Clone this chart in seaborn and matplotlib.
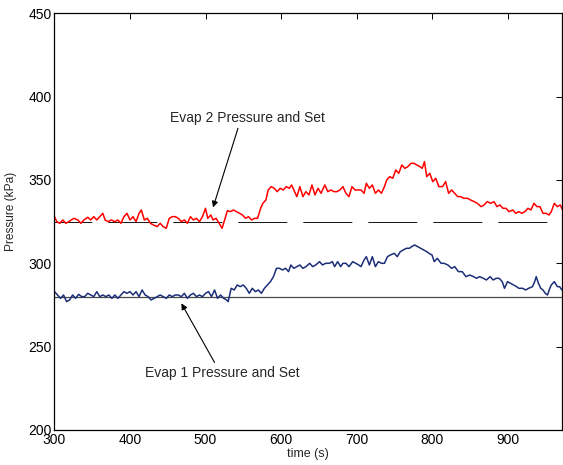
import numpy as np
import pandas as pd
import matplotlib
matplotlib.use("Agg")
import matplotlib.pyplot as plt
import seaborn as sns

# Evaporator 2 pressure trace (time in s, pressure in kPa)
evap2_t = [300, 303, 307, 311, 315, 319, 322, 326, 331, 335, 339, 344, 348, 352, 356, 360,
           364, 367, 371, 375, 380, 384, 388, 392, 396, 400, 404, 408, 412, 415, 419, 423,
           427, 431, 436, 440, 444, 448, 452, 456, 460, 464, 468, 472, 476, 480, 484, 488,
           492, 496, 500, 503, 507, 510, 514, 518, 522, 526, 529, 533, 537, 541, 545, 549,
           553, 557, 561, 565, 569, 573, 576, 580, 583, 587, 591, 595, 599, 603, 607, 611,
           614, 618, 621, 625, 629, 633, 637, 641, 645, 649, 653, 658, 662, 666, 670, 674,
           678, 682, 686, 690, 694, 698, 702, 706, 710, 713, 717, 721, 725, 729, 733, 737,
           740, 744, 748, 752, 756, 760, 764, 768, 772, 776, 780, 784, 787, 790, 793, 797,
           801, 805, 809, 814, 818, 822, 826, 830, 834, 838, 842, 847, 851, 856, 860, 865,
           869, 873, 878, 882, 886, 890, 894, 898, 902, 907, 911, 915, 919, 923, 927, 931,
           935, 939, 943, 947, 951, 955, 958, 962, 966, 970, 973]
evap2_p = [328, 325, 324, 326, 324, 325, 326, 327, 326, 324, 326, 327.6, 326, 328, 326, 328,
           330, 326, 325, 326, 325, 326, 324, 328, 330, 326, 328, 325, 330, 332, 326, 327,
           324, 323, 322, 324, 322, 321, 327, 328, 328, 327, 325, 326, 324, 328, 326, 327,
           325, 328, 333, 327, 329, 326, 327, 324, 321, 327, 331.6, 331, 332, 331, 330, 329,
           327, 328, 326, 327, 327, 333, 336, 338, 344, 346, 345, 343, 345, 344, 346, 345,
           347, 343, 340, 346, 340, 343, 341, 347, 341, 345, 342, 347, 343, 344, 343, 343,
           344, 346, 342, 340, 346, 344, 344, 344, 342, 348, 345, 347, 342, 344, 342, 346,
           350, 352, 351, 356, 354, 359, 357, 358, 360, 360, 359, 358, 357, 361, 352, 354,
           349, 351, 346, 346, 349, 342, 344, 342, 340, 340, 339, 339, 338, 337, 336, 334,
           335, 337, 336, 337, 334, 335, 333, 333, 331, 332, 330, 331, 330, 331, 333, 332,
           336, 334, 334, 330, 330, 329, 331, 336, 334, 335, 332]

# Evaporator 1 pressure trace
evap1_t = [300, 304, 308, 312, 316, 320, 324, 328, 332, 336, 340, 344, 348, 352, 356, 360,
           364, 368, 372, 376, 380, 384, 388, 392, 396, 400, 404, 408, 412, 416, 420, 424,
           428, 432, 436, 440, 444, 448, 452, 456, 460, 464, 468, 472, 476, 480, 484, 488,
           492, 496, 500, 504, 508, 512, 516, 520, 524, 528, 530, 534, 538, 542, 546, 550,
           554, 558, 562, 566, 570, 574, 578, 582, 586, 590, 594, 598, 602, 606, 610, 613,
           617, 621, 625, 629, 633, 638, 642, 646, 651, 655, 659, 664, 668, 671, 675, 679,
           682, 686, 690, 695, 699, 703, 706, 710, 713, 717, 721, 725, 729, 733, 737, 741,
           745, 750, 754, 758, 762, 766, 770, 773, 777, 781, 785, 789, 793, 796, 800, 803,
           807, 812, 816, 821, 826, 830, 835, 840, 845, 850, 855, 859, 863, 868, 872, 877,
           881, 885, 889, 893, 896, 900, 904, 908, 912, 915, 920, 924, 928, 933, 936, 938,
           941, 944, 947, 950, 953, 956, 958, 962, 966, 969, 972]
evap1_p = [283, 281, 279, 281, 277, 278, 281, 279, 281.4, 280, 280, 282, 281, 280, 283, 280,
           281, 280, 281, 279, 281, 279, 281, 283, 282, 283, 281, 283, 280, 284, 281, 280,
           278, 279, 280, 281, 280, 279, 281, 280, 281, 281, 280, 282, 279, 281, 282, 280,
           281, 280, 282, 283, 280, 284, 279, 281, 279, 278, 277, 285, 284, 287, 286, 287,
           285, 282, 285, 283, 284, 282, 285, 287, 289, 292, 297, 297, 296, 297, 295, 299,
           297, 298, 299, 297, 298, 300, 298, 299, 301, 299, 300, 300, 301, 298, 301, 298,
           300, 300, 298, 301, 300, 299, 298, 302, 304, 299, 304, 298, 301, 300, 300, 304,
           305, 306, 304, 307, 308, 309, 309, 310, 311, 310, 309, 308, 307, 306, 305, 301,
           303, 300, 300, 299, 297, 298, 295, 295, 292, 293, 292, 291, 292, 291, 290, 292,
           290, 291, 291, 289, 285, 289, 288, 287, 286, 285, 285, 284, 285, 286, 289, 292,
           288, 285, 284, 282, 281, 285, 287, 289, 286, 286, 284]

# Set points
set_t = [300, 972]
evap2_set = [325, 325]
evap1_set = [280, 280]

x_ticks = [300, 400, 500, 600, 700, 800, 900]
y_ticks = [200, 250, 300, 350, 400, 450]

sns.set_theme(style="white")
plt.rcParams["font.family"] = ["Liberation Sans", "DejaVu Sans"]
plt.rcParams["font.size"] = 9

df2 = pd.DataFrame({"t": evap2_t, "p": evap2_p})
df1 = pd.DataFrame({"t": evap1_t, "p": evap1_p})
dset = pd.DataFrame({"t": set_t, "s2": evap2_set, "s1": evap1_set})

fig = plt.figure(figsize=(5.63, 4.65), dpi=100)
ax = fig.add_axes([0.0968, 0.0753, 0.9012, 0.8961])

sns.lineplot(data=dset, x="t", y="s1", ax=ax, color="#4a4a4a", lw=0.9)
sns.lineplot(data=dset, x="t", y="s2", ax=ax, color="#1a1a1a", lw=0.72,
             linestyle=(11.2, (49, 16)))
sns.lineplot(data=df2, x="t", y="p", ax=ax, color="#ff0000", lw=1.1)
sns.lineplot(data=df1, x="t", y="p", ax=ax, color="#1c2e78", lw=1.1)

ax.set_xlim(300, 972)
ax.set_ylim(200, 450)
ax.set_xticks(x_ticks)
ax.set_yticks(y_ticks)
ax.set_xlabel("time (s)", fontsize=9, labelpad=1)
ax.set_ylabel("Pressure (kPa)", fontsize=8.6)
ax.yaxis.set_label_coords(-0.074, 0.525)
ax.tick_params(direction="in", length=4, width=0.7, colors="black",
               labelsize=10, top=True, right=True, pad=2)
ax.tick_params(axis="x", labeltop=False)
ax.tick_params(axis="y", labelright=False)
for s in ax.spines.values():
    s.set_visible(True)
    s.set_color("black")
    s.set_linewidth(0.9)

arrow = dict(arrowstyle="-|>", color="black", lw=0.8, mutation_scale=9,
             shrinkA=0, shrinkB=0)
ax.text(555, 387, "Evap 2 Pressure and Set", ha="center", va="center", fontsize=10)
ax.annotate("", xy=(510, 333.5), xytext=(543, 381), arrowprops=arrow)
ax.text(522, 234, "Evap 1 Pressure and Set", ha="center", va="center", fontsize=10)
ax.annotate("", xy=(468, 276), xytext=(512, 240.5), arrowprops=arrow)

fig.savefig("out.png", dpi=100)
